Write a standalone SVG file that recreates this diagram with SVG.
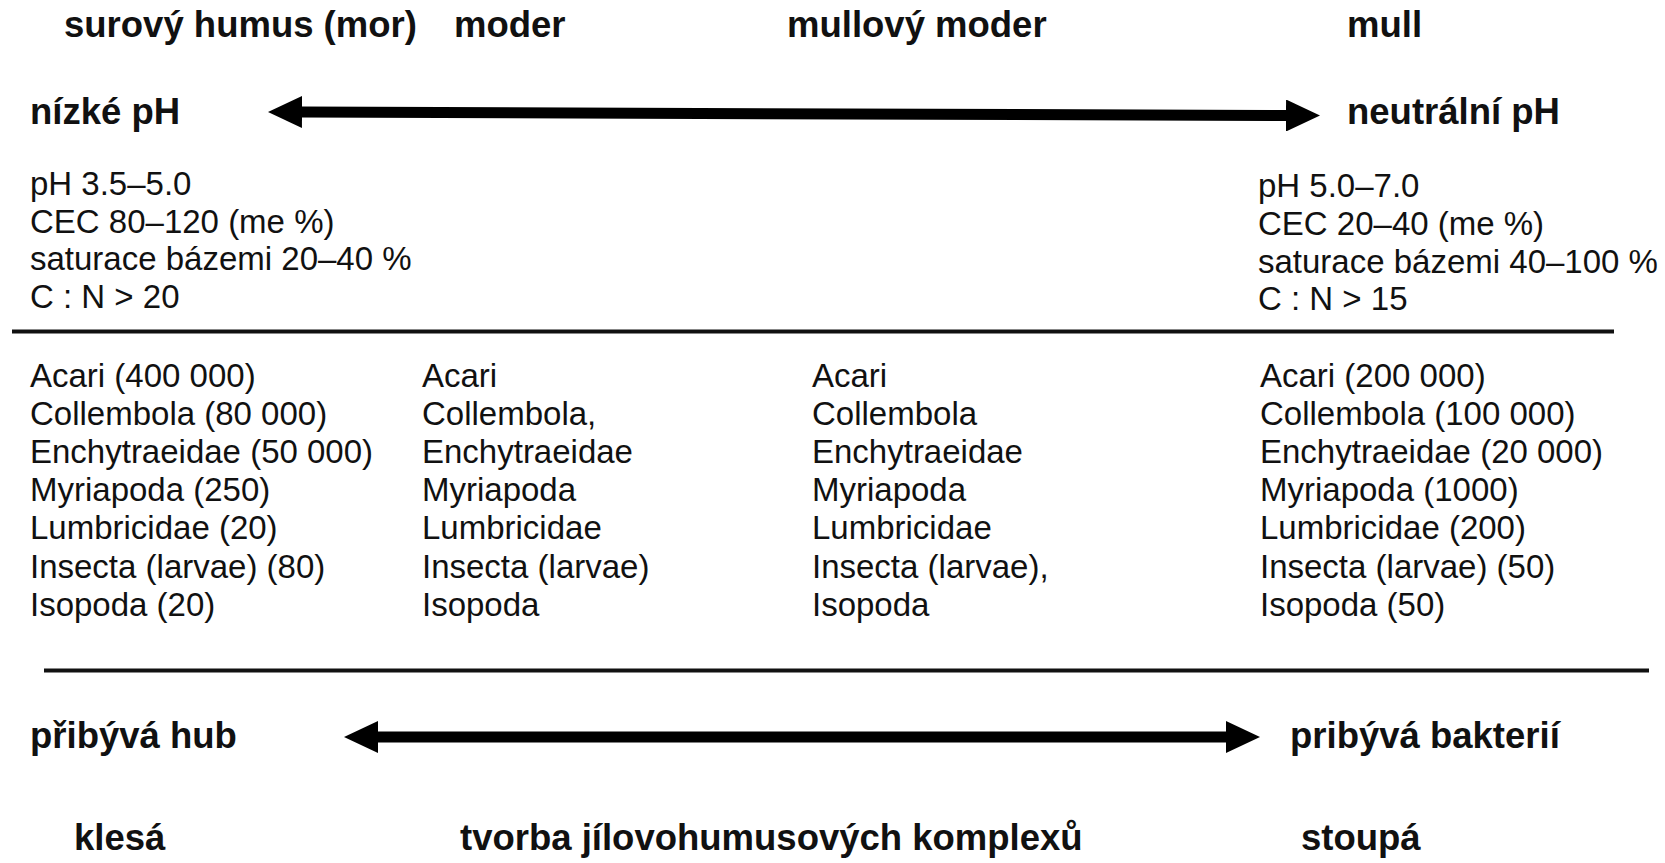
<svg xmlns="http://www.w3.org/2000/svg" width="1665" height="863" viewBox="0 0 1665 863">
  <style>
    text { font-family: "Liberation Sans", Arial, Helvetica, sans-serif; fill: #111; }
    .h { font-size: 36.5px; font-weight: bold; }
    .t { font-size: 33px; }
    .rule { stroke: #111; stroke-width: 4; fill: none; }
    .shaft { stroke: #000; stroke-width: 11; fill: none; }
  </style>
  <defs>
    <marker id="head" viewBox="0 0 34 32" refX="0" refY="16" markerWidth="34" markerHeight="32" markerUnits="userSpaceOnUse" orient="auto-start-reverse">
      <path d="M0,0 L34,16 L0,32 Z" fill="#000"/>
    </marker>
  </defs>

  <rect width="1665" height="863" fill="#fff"/>

  <!-- humus form headings -->
  <g id="mor"><text class="h" x="64" y="37">surový humus (mor)</text></g>
  <g id="moder"><text class="h" x="454" y="37">moder</text></g>
  <g id="mull-moder"><text class="h" x="787" y="37">mullový moder</text></g>
  <g id="mull"><text class="h" x="1347" y="37">mull</text></g>

  <!-- pH gradient ends -->
  <g id="low-ph"><text class="h" x="30" y="124">nízké pH</text></g>
  <g id="neutral-ph"><text class="h" x="1347" y="124">neutrální pH</text></g>

  <!-- soil chemistry -->
  <g id="chem-acid">
    <text class="t" x="30" y="195">pH 3.5–5.0</text>
    <text class="t" x="30" y="233">CEC 80–120 (me %)</text>
    <text class="t" x="30" y="270">saturace bázemi 20–40 %</text>
    <text class="t" x="30" y="308">C : N &gt; 20</text>
  </g>
  <g id="chem-neutral">
    <text class="t" x="1258" y="197">pH 5.0–7.0</text>
    <text class="t" x="1258" y="235">CEC 20–40 (me %)</text>
    <text class="t" x="1258" y="273">saturace bázemi 40–100 %</text>
    <text class="t" x="1258" y="310">C : N &gt; 15</text>
  </g>

  <!-- separators -->
  <g id="rules">
    <line class="rule" x1="12" y1="331.5" x2="1614" y2="331.5"/>
    <line class="rule" x1="44" y1="670.5" x2="1649" y2="670.5"/>
  </g>

  <!-- soil fauna per humus form -->
  <g id="fauna-mor">
    <text class="t" x="30" y="386.5">Acari (400 000)</text>
    <text class="t" x="30" y="424.7">Collembola (80 000)</text>
    <text class="t" x="30" y="462.9">Enchytraeidae (50 000)</text>
    <text class="t" x="30" y="501.1">Myriapoda (250)</text>
    <text class="t" x="30" y="539.3">Lumbricidae (20)</text>
    <text class="t" x="30" y="577.5">Insecta (larvae) (80)</text>
    <text class="t" x="30" y="615.7">Isopoda (20)</text>
  </g>
  <g id="fauna-moder">
    <text class="t" x="422" y="386.5">Acari</text>
    <text class="t" x="422" y="424.7">Collembola,</text>
    <text class="t" x="422" y="462.9">Enchytraeidae</text>
    <text class="t" x="422" y="501.1">Myriapoda</text>
    <text class="t" x="422" y="539.3">Lumbricidae</text>
    <text class="t" x="422" y="577.5">Insecta (larvae)</text>
    <text class="t" x="422" y="615.7">Isopoda</text>
  </g>
  <g id="fauna-mull-moder">
    <text class="t" x="812" y="386.5">Acari</text>
    <text class="t" x="812" y="424.7">Collembola</text>
    <text class="t" x="812" y="462.9">Enchytraeidae</text>
    <text class="t" x="812" y="501.1">Myriapoda</text>
    <text class="t" x="812" y="539.3">Lumbricidae</text>
    <text class="t" x="812" y="577.5">Insecta (larvae),</text>
    <text class="t" x="812" y="615.7">Isopoda</text>
  </g>
  <g id="fauna-mull">
    <text class="t" x="1260" y="386.5">Acari (200 000)</text>
    <text class="t" x="1260" y="424.7">Collembola (100 000)</text>
    <text class="t" x="1260" y="462.9">Enchytraeidae (20 000)</text>
    <text class="t" x="1260" y="501.1">Myriapoda (1000)</text>
    <text class="t" x="1260" y="539.3">Lumbricidae (200)</text>
    <text class="t" x="1260" y="577.5">Insecta (larvae) (50)</text>
    <text class="t" x="1260" y="615.7">Isopoda (50)</text>
  </g>

  <!-- microbial gradient ends -->
  <g id="fungi"><text class="h" x="30" y="748">přibývá hub</text></g>
  <g id="bacteria"><text class="h" x="1290" y="748">pribývá bakterií</text></g>

  <!-- clay-humus complex formation -->
  <g id="decreases"><text class="h" x="74" y="850">klesá</text></g>
  <g id="complexes"><text class="h" x="460" y="850">tvorba jílovohumusových komplexů</text></g>
  <g id="increases"><text class="h" x="1301" y="850">stoupá</text></g>

  <!-- double-headed gradient arrows -->
  <g id="connectors">
    <line class="shaft" x1="302" y1="112" x2="1286" y2="115.5" marker-start="url(#head)" marker-end="url(#head)"/>
    <line class="shaft" x1="378" y1="737" x2="1226" y2="737" marker-start="url(#head)" marker-end="url(#head)"/>
  </g>
</svg>
